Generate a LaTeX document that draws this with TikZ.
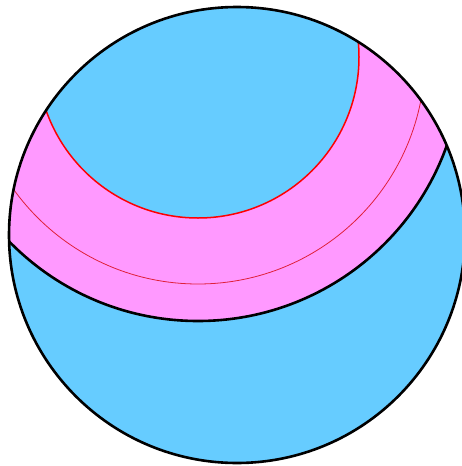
\documentclass[tikz,border=0pt]{standalone}
\usepackage{tikz}

\definecolor{skyblue}{HTML}{66CCFF}
\definecolor{bandpink}{HTML}{FF99FF}
\definecolor{seamred}{HTML}{E0203A}

\begin{document}
\begin{tikzpicture}[x=1pt, y=-1pt,
    ball/.style={draw=black, line width=2.6pt},
    band/.style={fill=bandpink, even odd rule},
    rim/.style={draw=red, line width=1.5pt},
    seam/.style={draw=seamred, line width=0.8pt},
    edge/.style={draw=black, line width=2.6pt}]

    \useasboundingbox (0,0) rectangle (462,466);
    \coordinate (c) at (237,235);
    \coordinate (o) at (198,57);

    \fill[skyblue] (c) circle (228pt);
    \begin{scope}
      \clip (c) circle (228pt);
      \path[band] (o) circle (161pt) (o) circle (264pt);
      \path[rim] (o) circle (161pt);
      \path[seam] (o) circle (227pt);
      \path[edge] (o) circle (264pt);
    \end{scope}
    \path[ball] (c) circle (228pt);
  \end{tikzpicture}
\end{document}
